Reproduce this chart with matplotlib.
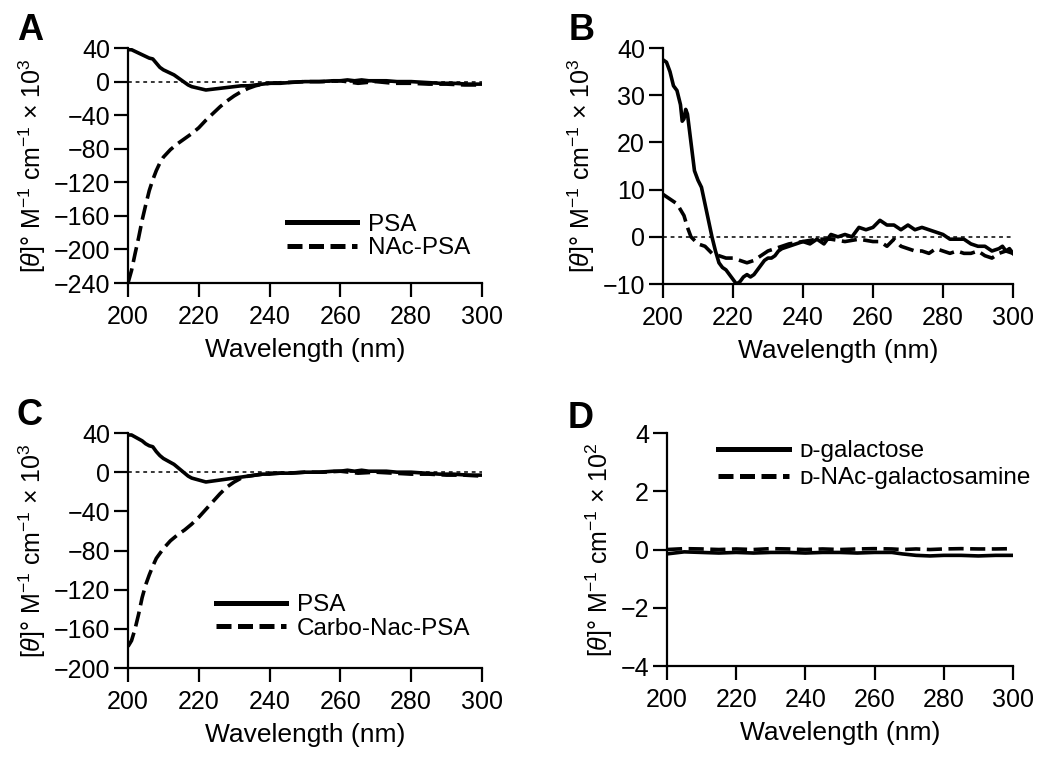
import matplotlib
matplotlib.use("Agg")
import matplotlib.pyplot as plt
from matplotlib.lines import Line2D
import numpy as np

plt.rcParams['font.family'] = ['Liberation Sans', 'DejaVu Sans']
plt.rcParams['mathtext.fontset'] = 'custom'
plt.rcParams['mathtext.rm'] = 'Liberation Sans'
plt.rcParams['mathtext.it'] = 'Liberation Sans:italic'
plt.rcParams['mathtext.default'] = 'regular'

# ---- panel A: PSA vs NAc-PSA ----
wl_a_psa = [200, 201, 202, 203, 204, 205, 206, 207, 208, 209, 210, 211, 212, 213, 214, 215, 216, 217, 218,
            220, 222, 224, 226, 228, 230, 232, 234, 236, 238, 240, 243, 246, 250, 254, 258, 260, 262, 264,
            266, 268, 270, 273, 276, 280, 284, 288, 292, 296, 300]
psa_a = [38, 38, 36, 34, 32, 30, 28, 27, 22, 17, 14, 12, 10, 8, 5, 2, -1, -4, -6,
         -8, -10, -9, -8, -7, -6, -5, -5, -4, -3, -2, -2, -1, 0, 0, 1, 1, 2, 1,
         2, 1, 1, 1, 0, 0, -1, -2, -2, -3, -3]
wl_a_nac = [200, 201, 202, 203, 204, 205, 206, 207, 208, 209, 210, 212, 214, 216, 218, 220, 222, 224, 226,
            228, 230, 232, 234, 236, 238, 240, 245, 250, 255, 260, 265, 270, 275, 280, 285, 290, 295, 300]
nac_a = [-240, -225, -205, -186, -165, -147, -130, -117, -106, -97, -90, -81, -74, -68, -62, -55, -46, -38, -30,
         -23, -17, -12, -8, -5, -3, -2, -1, 0, 0, 1, -2, 0, -2, -2, -3, -3, -4, -4]

# ---- panel B: PSA vs NAc-PSA (zoomed) ----
wl_b_psa = [200, 201, 202, 203, 204, 205, 205.5, 206, 206.5, 207, 208, 209, 210, 211, 212, 213, 214, 215,
            216, 217, 218, 219, 220, 221, 222, 223, 224, 225, 226, 227, 228, 229, 230, 231, 232, 233, 234,
            236, 238, 240, 242, 244, 246, 248, 250, 252, 254, 256, 258, 260, 262, 264, 266, 268, 270, 272,
            274, 276, 278, 280, 282, 284, 286, 288, 290, 292, 294, 296, 297, 298, 299, 300]
psa_b = [37.5, 37, 35, 32, 31, 28, 24.5, 25, 27, 26, 20, 14, 12, 10.5, 7, 3.5, 0, -3,
         -5.5, -6.5, -7, -8, -9, -10, -9.5, -8.5, -8, -8.5, -8, -7, -6, -5, -4.5, -4.5, -4, -3, -2.5,
         -2, -1.5, -1, -1.5, -0.5, -1.5, 0.5, 0, 0.5, 0, 2, 1.5, 2, 3.5, 2.5, 2.5, 1.5, 2.5, 1.5,
         2, 1.5, 1, 0.5, -0.5, -0.5, -0.5, -1.5, -2, -2, -3, -2.5, -2, -3, -2.5, -3.5]
wl_b_nac = [200, 202, 204, 206, 207, 208, 210, 212, 214, 216, 218, 220, 222, 224, 226, 228, 230, 232, 234,
            236, 240, 244, 248, 252, 256, 260, 262, 264, 266, 268, 270, 272, 274, 276, 278, 280, 282, 284,
            286, 288, 290, 292, 294, 296, 298, 300]
nac_b = [9, 8, 7, 4.5, 2, 0, -1.5, -2, -3.5, -4, -4.5, -4.5, -5, -5.5, -5, -4, -3, -2.5, -2,
         -1.5, -1, -0.5, -0.5, -1, -0.5, -1, -1, -2, -0.5, -2, -2.5, -3, -3, -3.5, -2.5, -3, -3.5, -3,
         -3.5, -3.5, -3, -4, -4.5, -3.5, -3, -3.5]

# ---- panel C: PSA vs Carbo-Nac-PSA ----
wl_c_psa = wl_a_psa
psa_c = [38, 38, 36, 34, 32, 29, 27, 26, 21, 17, 14, 12, 10, 8, 5, 2, -1, -4, -6,
         -8, -10, -9, -8, -7, -6, -5, -4, -3, -2, -2, -1, -1, 0, 0, 1, 1, 2, 1,
         2, 1, 1, 1, 0, 0, -1, -2, -2, -3, -3]
wl_c_carbo = [200, 201, 202, 203, 204, 205, 206, 207, 208, 210, 212, 214, 216, 218, 220, 222, 224, 226, 228,
              230, 232, 234, 236, 240, 245, 250, 255, 260, 265, 270, 275, 280, 285, 290, 295, 300]
carbo_c = [-178, -172, -160, -145, -128, -115, -105, -96, -88, -78, -70, -64, -59, -53, -46, -38, -30, -22, -15,
           -10, -6, -4, -3, -1, -1, 0, 0, 1, -1, 0, -1, -2, -2, -3, -3, -4]

# ---- panel D: sugars ----
wl_d = [200, 205, 210, 215, 220, 225, 230, 235, 240, 245, 250, 255, 260, 265, 268, 272, 276, 280, 285, 290, 295, 300]
galactose = [-0.15, -0.08, -0.1, -0.12, -0.1, -0.12, -0.1, -0.1, -0.12, -0.1, -0.1, -0.12, -0.1, -0.1, -0.15,
             -0.2, -0.22, -0.2, -0.2, -0.22, -0.2, -0.2]
nac_galactosamine = [0.0, 0.03, 0.02, 0.0, 0.02, 0.0, 0.03, 0.02, 0.0, 0.02, 0.0, 0.02, 0.03, 0.02, 0.0,
                     0.02, 0.0, 0.02, 0.03, 0.02, 0.02, 0.03]

ylabel3 = r'[$\mathit{\theta}$]° M$^{-1}$ cm$^{-1}$ × 10$^{3}$'
ylabel2 = r'[$\mathit{\theta}$]° M$^{-1}$ cm$^{-1}$ × 10$^{2}$'

FS = 18
LW = 2.6
DASH = (4.2, 1.8)

fig = plt.figure(figsize=(10.5, 7.66), dpi=100)
axA = fig.add_axes([0.1219, 0.6305, 0.3371, 0.3068])
axB = fig.add_axes([0.6314, 0.6292, 0.3333, 0.3081])
axC = fig.add_axes([0.1219, 0.1279, 0.3371, 0.3068])
axD = fig.add_axes([0.6352, 0.1305, 0.3295, 0.3042])


def style(ax, yticks, ylabel):
    ax.set_xlim(200, 300)
    ax.set_ylim(yticks[0], yticks[-1])
    ax.set_xticks(np.arange(200, 301, 20))
    ax.set_yticks(yticks)
    ax.set_yticklabels([f'{t:g}'.replace('-', '\u2212') for t in yticks])
    for s in ['top', 'right']:
        ax.spines[s].set_visible(False)
    for s in ['left', 'bottom']:
        ax.spines[s].set_linewidth(1.6)
    ax.tick_params(direction='out', length=10, width=1.6, labelsize=FS)
    ax.tick_params(axis='x', pad=6)
    ax.tick_params(axis='y', pad=3)
    ax.set_xlabel('Wavelength (nm)', fontsize=19, labelpad=6)
    ax.set_ylabel(ylabel, fontsize=FS, labelpad=4)
    for lab in ax.get_xticklabels() + ax.get_yticklabels():
        lab.set_clip_on(False)


def zero_line(ax):
    ax.axhline(0, color='black', lw=1.1, ls=(0, (2.5, 2.5)), zorder=1)


def legend(ax, labels, loc, anchor, spacing):
    handles = [Line2D([], [], color='black', lw=3.6),
               Line2D([], [], color='black', lw=3.6, ls=(0, (3, 1.3)))]
    ax.legend(handles, labels, loc=loc, bbox_to_anchor=anchor, frameon=False, fontsize=17.5,
              handlelength=2.9, handletextpad=0.45, labelspacing=spacing, borderaxespad=0)


# A
zero_line(axA)
axA.plot(wl_a_nac, nac_a, color='black', lw=LW, dashes=DASH, zorder=2)
axA.plot(wl_a_psa, psa_a, color='black', lw=LW, zorder=3)
style(axA, [-240, -200, -160, -120, -80, -40, 0, 40], ylabel3)
legend(axA, ['PSA', 'NAc-PSA'], 'lower right', (0.995, 0.06), 0.05)

# B
zero_line(axB)
axB.plot(wl_b_nac, nac_b, color='black', lw=LW, dashes=DASH, zorder=2)
axB.plot(wl_b_psa, psa_b, color='black', lw=LW, zorder=3)
style(axB, [-10, 0, 10, 20, 30, 40], ylabel3)

# C
zero_line(axC)
axC.plot(wl_c_carbo, carbo_c, color='black', lw=LW, dashes=DASH, zorder=2)
axC.plot(wl_c_psa, psa_c, color='black', lw=LW, zorder=3)
style(axC, [-200, -160, -120, -80, -40, 0, 40], ylabel3)
legend(axC, ['PSA', 'Carbo-Nac-PSA'], 'lower right', (0.995, 0.08), 0.05)

# D
axD.plot(wl_d, nac_galactosamine, color='black', lw=LW, dashes=DASH, zorder=2)
axD.plot(wl_d, galactose, color='black', lw=LW, zorder=3)
style(axD, [-4, -2, 0, 2, 4], ylabel2)
legend(axD, ['\u1d05-galactose', '\u1d05-NAc-galactosamine'], 'upper left', (0.12, 1.01), 0.2)

# panel letters
for letter, x, y in [('A', 0.016, 0.96), ('B', 0.542, 0.96), ('C', 0.016, 0.458), ('D', 0.541, 0.454)]:
    fig.text(x, y, letter, fontsize=26, fontweight='bold', ha='left', va='center')

fig.savefig('out.png', dpi=100)
